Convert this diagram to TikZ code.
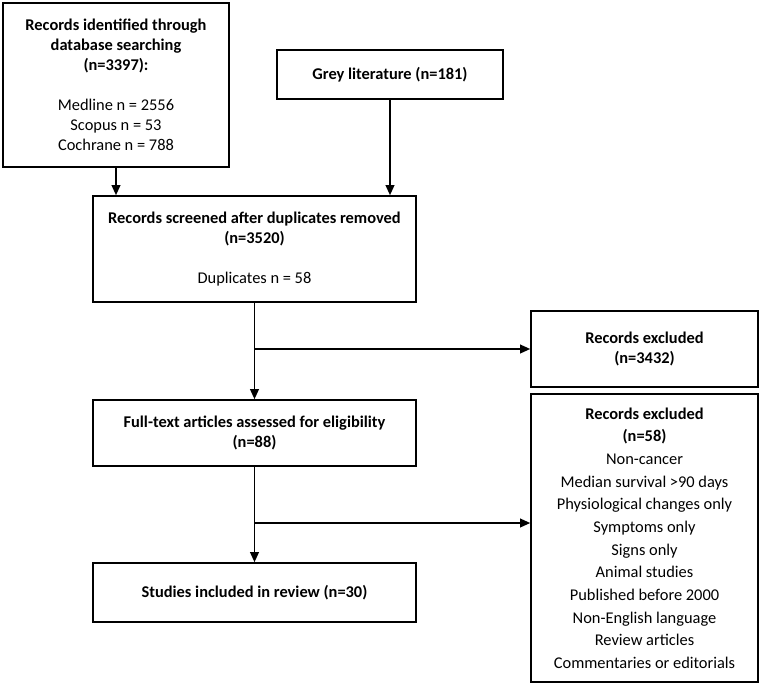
\documentclass[tikz,border=0pt]{standalone}
\usepackage{fontspec}
\setmainfont{Carlito}
\usetikzlibrary{arrows.meta}
\tikzset{every picture/.style={line width=0.75pt}}

\begin{document}
\begin{tikzpicture}[x=0.75pt,y=0.75pt,yscale=-1,xscale=1,
  box/.style={draw, line width=1.2pt, align=center, inner sep=0pt, font=\fontsize{12.3}{15}\selectfont},
  flow/.style={line width=1.2pt, -{Triangle[length=7.5pt,width=6.5pt]}}]
\useasboundingbox (0,0) rectangle (760,686);

%Shape: Rectangle [database search]
\node (db) [box, minimum width=169.5pt, minimum height=123pt] at (116,85) {\textbf{Records identified through}\\ \textbf{database searching}\\ \textbf{(n=3397):}\\[15pt] Medline n = 2556\\ Scopus n = 53\\ Cochrane n = 788};
%Shape: Rectangle [grey literature]
\node (grey) [box, minimum width=169.5pt, minimum height=36.75pt] at (390,74.5) {\textbf{Grey literature (n=181)}};
%Shape: Rectangle [screened]
\node (screen) [box, minimum width=242.25pt, minimum height=79.5pt] at (254.5,249) {\textbf{Records screened after duplicates removed}\\ \textbf{(n=3520)}\\[15pt] Duplicates n = 58};
%Shape: Rectangle [excluded 1]
\node (excl1) [box, minimum width=170.25pt, minimum height=57pt] at (644.5,349) {\textbf{Records excluded}\\ \textbf{(n=3432)}};
%Shape: Rectangle [full text]
\node (full) [box, minimum width=242.25pt, minimum height=49.5pt] at (254.5,433) {\textbf{Full-text articles assessed for eligibility}\\ \textbf{(n=88)}};
%Shape: Rectangle [excluded 2]
\node (excl2) [box, minimum width=170.25pt, minimum height=216pt, font=\fontsize{12.3}{17}\selectfont] at (644.5,538) {\textbf{Records excluded}\\ \textbf{(n=58)}\\ Non-cancer\\ Median survival >90 days\\ Physiological changes only\\ Symptoms only\\ Signs only\\ Animal studies\\ Published before 2000\\ Non-English language\\ Review articles\\ Commentaries or editorials};
%Shape: Rectangle [included]
\node (incl) [box, minimum width=242.25pt, minimum height=44.25pt] at (254.5,592.5) {\textbf{Studies included in review (n=30)}};

%Straight Lines
\draw [flow] (db.south) -- (db.south |- screen.north);
\draw [flow] (grey.south) -- (grey.south |- screen.north);
\draw [flow] (screen.south) -- (full.north);
\coordinate (j1) at (screen.south |- excl1.west);
\draw [flow] (j1) -- (excl1.west);
\draw [flow] (full.south) -- (incl.north);
\coordinate (j2) at (254.5,523);
\draw [flow] (j2) -- (j2 -| excl2.west);

\end{tikzpicture}
\end{document}
